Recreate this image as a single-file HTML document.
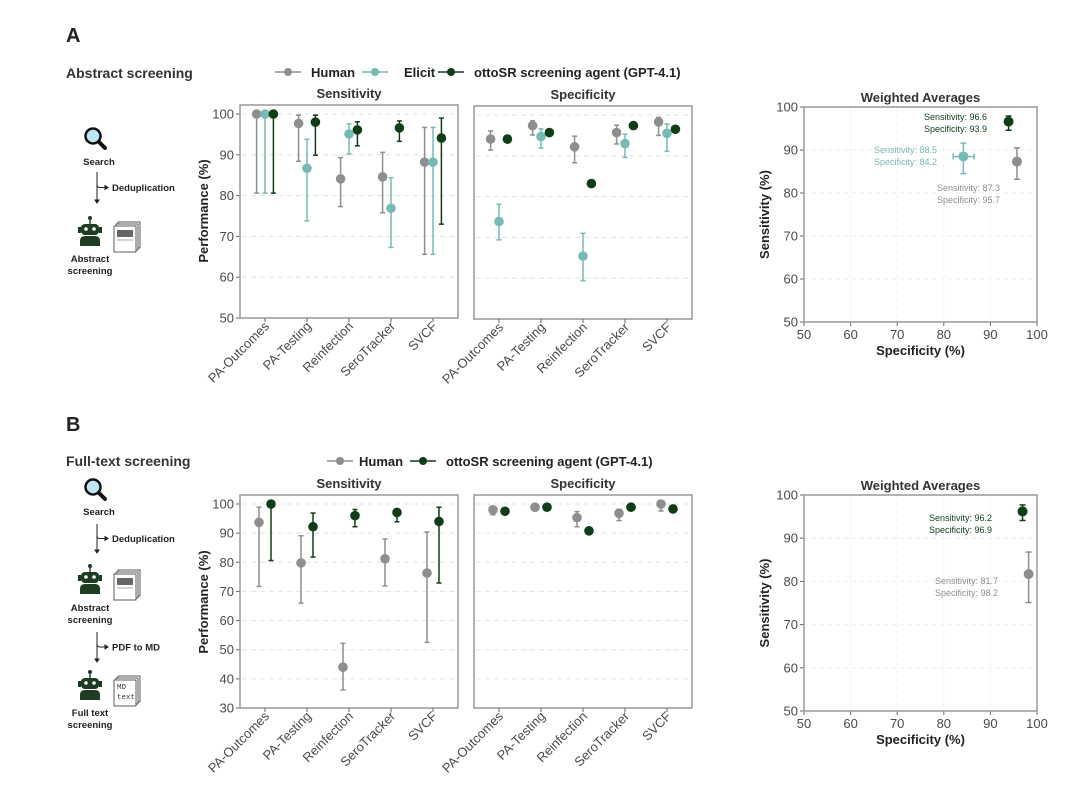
<!DOCTYPE html>
<html><head><meta charset="utf-8"><style>
body{margin:0;background:#fff;}
svg{display:block;font-family:"Liberation Sans",sans-serif;}
</style></head><body>
<svg id="fig" width="1080" height="793" viewBox="0 0 1080 793" xmlns="http://www.w3.org/2000/svg">
<g id="static">
<text x="66" y="42" font-size="20" font-weight="bold" fill="#222">A</text>
<text x="66" y="78" font-size="14" font-weight="bold" fill="#333">Abstract screening</text>
<text x="66" y="431" font-size="20" font-weight="bold" fill="#222">B</text>
<text x="66" y="466" font-size="14" font-weight="bold" fill="#333">Full-text screening</text>
</g>
<g id="dyn"></g>
</svg>
<script>
// ---------- data ----------
const categories = ["PA-Outcomes","PA-Testing","Reinfection","SeroTracker","SVCF"];
const yTicksA = [50,60,70,80,90,100];
const yTicksB = [30,40,50,60,70,80,90,100];
const wTicks = [50,60,70,80,90,100];
// Panel A sensitivity
const aSensHuman = [100,97.7,84.1,84.6,88.2];
const aSensHumanLo = [80.6,88.4,77.3,75.8,65.6];
const aSensHumanHi = [100,99.7,89.3,90.6,96.7];
const aSensElicit = [100,86.7,95.1,76.9,88.2];
const aSensElicitLo = [80.6,73.8,90.2,67.3,65.6];
const aSensElicitHi = [100,93.8,97.6,84.4,96.7];
const aSensOtto = [100,98.0,96.1,96.6,94.1];
const aSensOttoLo = [80.6,89.9,92.2,93.3,73.0];
const aSensOttoHi = [100,99.7,98.1,98.3,99.0];
// Panel A specificity
const aSpecHuman = [94.1,97.4,92.2,95.7,98.3];
const aSpecHumanLo = [91.4,95.1,88.3,92.9,95.0];
const aSpecHumanHi = [96.1,98.6,94.8,97.5,99.4];
const aSpecElicit = [73.9,94.7,65.4,93.0,95.5];
const aSpecElicitLo = [69.4,91.9,59.4,89.6,91.1];
const aSpecElicitHi = [78.1,96.6,71.0,95.3,97.8];
const aSpecOtto = [94.1,95.7,83.2,97.4,96.5];
const aSpecOttoLo = [93.6,95.3,82.4,97.0,96.0];
const aSpecOttoHi = [94.6,96.1,84.0,97.7,97.0];
// Panel B sensitivity
const bSensHuman = [93.7,79.8,44.0,81.2,76.3];
const bSensHumanLo = [71.7,66.0,36.2,71.9,52.5];
const bSensHumanHi = [98.9,89.1,52.2,88.0,90.4];
const bSensOtto = [100,92.2,96.0,97.1,94.0];
const bSensOttoLo = [80.6,81.8,92.2,93.9,72.9];
const bSensOttoHi = [100,96.9,98.1,98.3,98.9];
// Panel B specificity
const bSpecHuman = [98.0,98.9,95.3,96.8,100];
const bSpecHumanLo = [96.3,97.6,92.2,94.3,97.6];
const bSpecHumanHi = [99.1,99.5,97.4,98.2,100];
const bSpecOtto = [97.5,98.9,90.8,98.9,98.3];
const bSpecOttoLo = [97.3,98.7,90.5,98.7,98.0];
const bSpecOttoHi = [97.8,99.1,91.1,99.1,98.6];
// Weighted averages A: human, elicit, otto
const wAGroups = ["human","elicit","otto"];
const wASpec = [95.7,84.2,93.9];
const wASpecLo = [95.0,82.0,93.5];
const wASpecHi = [96.4,86.5,94.3];
const wASens = [87.3,88.5,96.6];
const wASensLo = [83.2,84.5,94.6];
const wASensHi = [90.5,91.6,97.9];
// Weighted averages B: human, otto
const wBGroups = ["human","otto"];
const wBSpec = [98.2,96.9];
const wBSpecLo = [97.7,96.6];
const wBSpecHi = [98.7,97.2];
const wBSens = [81.7,96.2];
const wBSensLo = [75.1,94.1];
const wBSensHi = [86.8,97.7];

const COL = {human:"#8e8e8e", elicit:"#76bab5", otto:"#0f3d17"};
const NS = "http://www.w3.org/2000/svg";
const root = document.getElementById('dyn');
function mk(tag, attrs, parent){const e=document.createElementNS(NS,tag);for(const k in attrs)e.setAttribute(k,attrs[k]);(parent||root).appendChild(e);return e;}
function txt(x,y,s,attrs,parent){const e=mk('text',Object.assign({x:x,y:y},attrs),parent);e.textContent=s;return e;}

function dotPanel(name,x0,x1,y0,y1,vmin,vmax,ticks,showY,title,series){
  const g=mk('g',{});
  
  
  const Y=v=>y1-(v-vmin)/(vmax-vmin)*(y1-y0-9);
  const step=(x1-x0-50)/(categories.length-1);
  const X=i=>x0+25+i*step;
  ticks.forEach(t=>{
    if(t>vmin){const gl=mk('line',{x1:x0+2,x2:x1-2,y1:Y(t),y2:Y(t),stroke:"#e3e3e3","stroke-dasharray":"5,4","stroke-width":1},g);
    }
    if(showY){mk('line',{x1:x0-4,x2:x0,y1:Y(t),y2:Y(t),stroke:"#666"},g);
      const tl=txt(x0-6,Y(t)+4.5,String(t),{"font-size":13,fill:"#4a4a4a","text-anchor":"end"},g);
      }
  });
  const fr=mk('rect',{x:x0,y:y0,width:x1-x0,height:y1-y0,fill:"none",stroke:"#999","stroke-width":1.5},g);
  
  const tt=txt((x0+x1)/2,y0-7,title,{"font-size":13,"font-weight":"bold",fill:"#333","text-anchor":"middle"},g);
  
  categories.forEach((c,i)=>{
    mk('line',{x1:X(i),x2:X(i),y1:y1,y2:y1+4,stroke:"#666"},g);
    const l=txt(X(i)+5,y1+9,c,{"font-size":13,fill:"#4a4a4a","text-anchor":"end",transform:`rotate(-45 ${X(i)+5} ${y1+9})`},g);
    
  });
  series.forEach(s=>{
    s.v.forEach((v,i)=>{
      const cx=X(i)+s.off;
      const eb=mk('g',{stroke:COL[s.k],"stroke-width":1.5},g);
      
      mk('line',{x1:cx,x2:cx,y1:Y(s.lo[i]),y2:Y(s.hi[i])},eb);
      mk('line',{x1:cx-2.5,x2:cx+2.5,y1:Y(s.lo[i]),y2:Y(s.lo[i])},eb);
      mk('line',{x1:cx-2.5,x2:cx+2.5,y1:Y(s.hi[i]),y2:Y(s.hi[i])},eb);
      const p=mk('circle',{cx:cx,cy:Y(v),r:4.8,fill:COL[s.k]},g);
      
      
    });
  });
  return Y;
}

function weightedPanel(name,x0,x1,y0,y1,groups,spec,specLo,specHi,sens,sensLo,sensHi,labels){
  const g=mk('g',{});
  
  
  const X=v=>x0+(v-50)/50*(x1-x0);
  const Y=v=>y1-(v-50)/50*(y1-y0);
  wTicks.forEach(t=>{
    if(t>50&&t<100){
      mk('line',{x1:X(t),x2:X(t),y1:y0,y2:y1,stroke:"#eee","stroke-dasharray":"4,4"},g);
      mk('line',{x1:x0,x2:x1,y1:Y(t),y2:Y(t),stroke:"#eee","stroke-dasharray":"4,4"},g);
    }
    mk('line',{x1:x0-4,x2:x0,y1:Y(t),y2:Y(t),stroke:"#666"},g);
    mk('line',{x1:X(t),x2:X(t),y1:y1,y2:y1+4,stroke:"#666"},g);
    const a=txt(x0-6,Y(t)+4.5,String(t),{"font-size":13,fill:"#4a4a4a","text-anchor":"end"},g);
    
    const b=txt(X(t),y1+17,String(t),{"font-size":13,fill:"#4a4a4a","text-anchor":"middle"},g);
    
  });
  mk('rect',{x:x0,y:y0,width:x1-x0,height:y1-y0,fill:"none",stroke:"#999","stroke-width":1.5},g);
  const t=txt((x0+x1)/2,y0-5,"Weighted Averages",{"font-size":13,"font-weight":"bold",fill:"#333","text-anchor":"middle"},g);
  
  const xt=txt((x0+x1)/2,y1+33,"Specificity (%)",{"font-size":13,"font-weight":"bold",fill:"#222","text-anchor":"middle"},g);
  
  const yc=(y0+y1)/2;
  const yt=txt(x0-35,yc,"Sensitivity (%)",{"font-size":13,"font-weight":"bold",fill:"#222","text-anchor":"middle",transform:`rotate(-90 ${x0-35} ${yc})`},g);
  
  groups.forEach((k,i)=>{
    const cx=X(spec[i]),cy=Y(sens[i]);
    const eb=mk('g',{stroke:COL[k],"stroke-width":1.5},g);
    
    mk('line',{x1:cx,x2:cx,y1:Y(sensLo[i]),y2:Y(sensHi[i])},eb);
    mk('line',{x1:cx-3,x2:cx+3,y1:Y(sensLo[i]),y2:Y(sensLo[i])},eb);
    mk('line',{x1:cx-3,x2:cx+3,y1:Y(sensHi[i]),y2:Y(sensHi[i])},eb);
    mk('line',{x1:X(specLo[i]),x2:X(specHi[i]),y1:cy,y2:cy},eb);
    mk('line',{x1:X(specLo[i]),x2:X(specLo[i]),y1:cy-3,y2:cy+3},eb);
    mk('line',{x1:X(specHi[i]),x2:X(specHi[i]),y1:cy-3,y2:cy+3},eb);
    const p=mk('circle',{cx:cx,cy:cy,r:5,fill:COL[k]},g);
    
    const L=labels[i];
    const l1=txt(L[0],L[1],"Sensitivity: "+sens[i].toFixed(1),{"font-size":9,fill:COL[k],"text-anchor":"end"},g);
    
    const l2=txt(L[0],L[1]+12,"Specificity: "+spec[i].toFixed(1),{"font-size":9,fill:COL[k],"text-anchor":"end"},g);
    
  });
}

function legend(y,items){
  const g=mk('g',{});
  
  
  items.forEach(it=>{
    const e=mk('g',{},g);
    
    
    mk('line',{x1:it.x-13,x2:it.x+13,y1:y,y2:y,stroke:COL[it.k],"stroke-width":1.5},e);
    mk('circle',{cx:it.x,cy:y,r:4,fill:COL[it.k]},e);
    txt(it.tx,y+5,it.t,{"font-size":13,"font-weight":"bold",fill:"#222"},e);
  });
}

function yTitle(x,yc){
  const t=txt(x,yc,"Performance (%)",{"font-size":13,"font-weight":"bold",fill:"#222","text-anchor":"middle",transform:`rotate(-90 ${x} ${yc})`});
  
}

// Panel A
legend(72,[{k:"human",x:288,tx:311,t:"Human"},{k:"elicit",x:375,tx:404,t:"Elicit"},{k:"otto",x:451,tx:474,t:"ottoSR screening agent (GPT-4.1)"}]);
dotPanel('a-sensitivity-panel',240,458,105,318,50,100,yTicksA,true,"Sensitivity",[
 {k:"human",off:-8.4,v:aSensHuman,lo:aSensHumanLo,hi:aSensHumanHi},
 {k:"elicit",off:0,v:aSensElicit,lo:aSensElicitLo,hi:aSensElicitHi},
 {k:"otto",off:8.4,v:aSensOtto,lo:aSensOttoLo,hi:aSensOttoHi}]);
dotPanel('a-specificity-panel',474,692,106,319,50,100,yTicksA,false,"Specificity",[
 {k:"human",off:-8.4,v:aSpecHuman,lo:aSpecHumanLo,hi:aSpecHumanHi},
 {k:"elicit",off:0,v:aSpecElicit,lo:aSpecElicitLo,hi:aSpecElicitHi},
 {k:"otto",off:8.4,v:aSpecOtto,lo:aSpecOttoLo,hi:aSpecOttoHi}]);
yTitle(208,211);
weightedPanel('a-weighted-averages',804,1037,107,322,wAGroups,wASpec,wASpecLo,wASpecHi,wASens,wASensLo,wASensHi,
 [[1000,191],[937,153],[987,120]]);

// Panel B
legend(461,[{k:"human",x:340,tx:359,t:"Human"},{k:"otto",x:423,tx:446,t:"ottoSR screening agent (GPT-4.1)"}]);
dotPanel('b-sensitivity-panel',240,458,495,708,30,100,yTicksB,true,"Sensitivity",[
 {k:"human",off:-6,v:bSensHuman,lo:bSensHumanLo,hi:bSensHumanHi},
 {k:"otto",off:6,v:bSensOtto,lo:bSensOttoLo,hi:bSensOttoHi}]);
dotPanel('b-specificity-panel',474,692,495,708,30,100,yTicksB,false,"Specificity",[
 {k:"human",off:-6,v:bSpecHuman,lo:bSpecHumanLo,hi:bSpecHumanHi},
 {k:"otto",off:6,v:bSpecOtto,lo:bSpecOttoLo,hi:bSpecOttoHi}]);
yTitle(208,602);
weightedPanel('b-weighted-averages',804,1037,495,711,wBGroups,wBSpec,wBSpecLo,wBSpecHi,wBSens,wBSensLo,wBSensHi,
 [[998,584],[992,521]]);

// ---------- workflow icons ----------
function search(cx,cy){
  const g=mk('g',{});
  
  
  mk('line',{x1:cx+5,y1:cy+5,x2:cx+12,y2:cy+12,stroke:"#111","stroke-width":4,"stroke-linecap":"round"},g);
  mk('circle',{cx:cx,cy:cy,r:7.5,fill:"#bfe6f5",stroke:"#111","stroke-width":2.5},g);
}
function arrow(x,y0,y1,label){
  const g=mk('g',{stroke:"#222","stroke-width":1,fill:"none"});
  
  
  const my=(y0+y1)/2;
  mk('line',{x1:x,y1:y0,x2:x,y2:y1},g);
  mk('path',{d:`M${x} ${my-3} Q${x} ${my} ${x+3} ${my} L${x+10} ${my}`},g);
  mk('path',{d:`M${x+8} ${my-2} L${x+11} ${my} L${x+8} ${my+2} Z`,fill:"#222"},g);
  mk('path',{d:`M${x-2} ${y1-3} L${x} ${y1} L${x+2} ${y1-3} Z`,fill:"#222"},g);
  const t=txt(x+15,my+3.5,label,{"font-size":9.5,"font-weight":"bold",fill:"#222"});
  
}
function robot(cx,cy){
  const g=mk('g',{fill:"#1c3d22"});
  
  
  mk('circle',{cx:cx,cy:cy-16,r:2},g);
  mk('rect',{x:cx-0.7,y:cy-15,width:1.4,height:5},g);
  mk('rect',{x:cx-9,y:cy-10,width:18,height:11,rx:4},g);
  mk('rect',{x:cx-12,y:cy-7,width:3,height:6},g);
  mk('rect',{x:cx+9,y:cy-7,width:3,height:6},g);
  mk('circle',{cx:cx-4,cy:cy-5,r:1.8,fill:"#fff"},g);
  mk('circle',{cx:cx+4,cy:cy-5,r:1.8,fill:"#fff"},g);
  mk('path',{d:`M${cx-10} ${cy+12} L${cx-10} ${cy+7} Q${cx-10} ${cy+2} ${cx-5} ${cy+2} L${cx+5} ${cy+2} Q${cx+10} ${cy+2} ${cx+10} ${cy+7} L${cx+10} ${cy+12} Z`},g);
}
function docs(x,y,md){
  const g=mk('g',{});
  
  
  for(let i=2;i>=0;i--) mk('rect',{x:x+i*2,y:y-i*2,width:22,height:26,fill:"#fff",stroke:"#333","stroke-width":0.8},g);
  if(md){
    txt(x+3,y+9,"MD",{"font-size":7.5,"font-family":"Liberation Mono, monospace",fill:"#333"},g);
    txt(x+3,y+19,"text",{"font-size":7.5,"font-family":"Liberation Mono, monospace",fill:"#333"},g);
  } else {
    mk('rect',{x:x+3,y:y+4,width:16,height:7,fill:"#666"},g);
    mk('line',{x1:x+3,x2:x+19,y1:y+14,y2:y+14,stroke:"#aaa"},g);
  }
}
function lbl(x,y,s){const t=txt(x,y,s,{"font-size":9.5,"font-weight":"bold",fill:"#222","text-anchor":"middle"});}

search(93,136); lbl(99,165,"Search");
arrow(97,172,203,"Deduplication");
robot(90,234); docs(114,226,false);
lbl(90,262,"Abstract"); lbl(90,274,"screening");

search(93,487); lbl(99,515,"Search");
arrow(97,524,553,"Deduplication");
robot(90,582); docs(114,574,false);
lbl(90,611,"Abstract"); lbl(90,623,"screening");
arrow(97,632,662,"PDF to MD");
robot(90,688); docs(114,680,true);
lbl(90,716,"Full text"); lbl(90,728,"screening");
</script>
</body></html>
